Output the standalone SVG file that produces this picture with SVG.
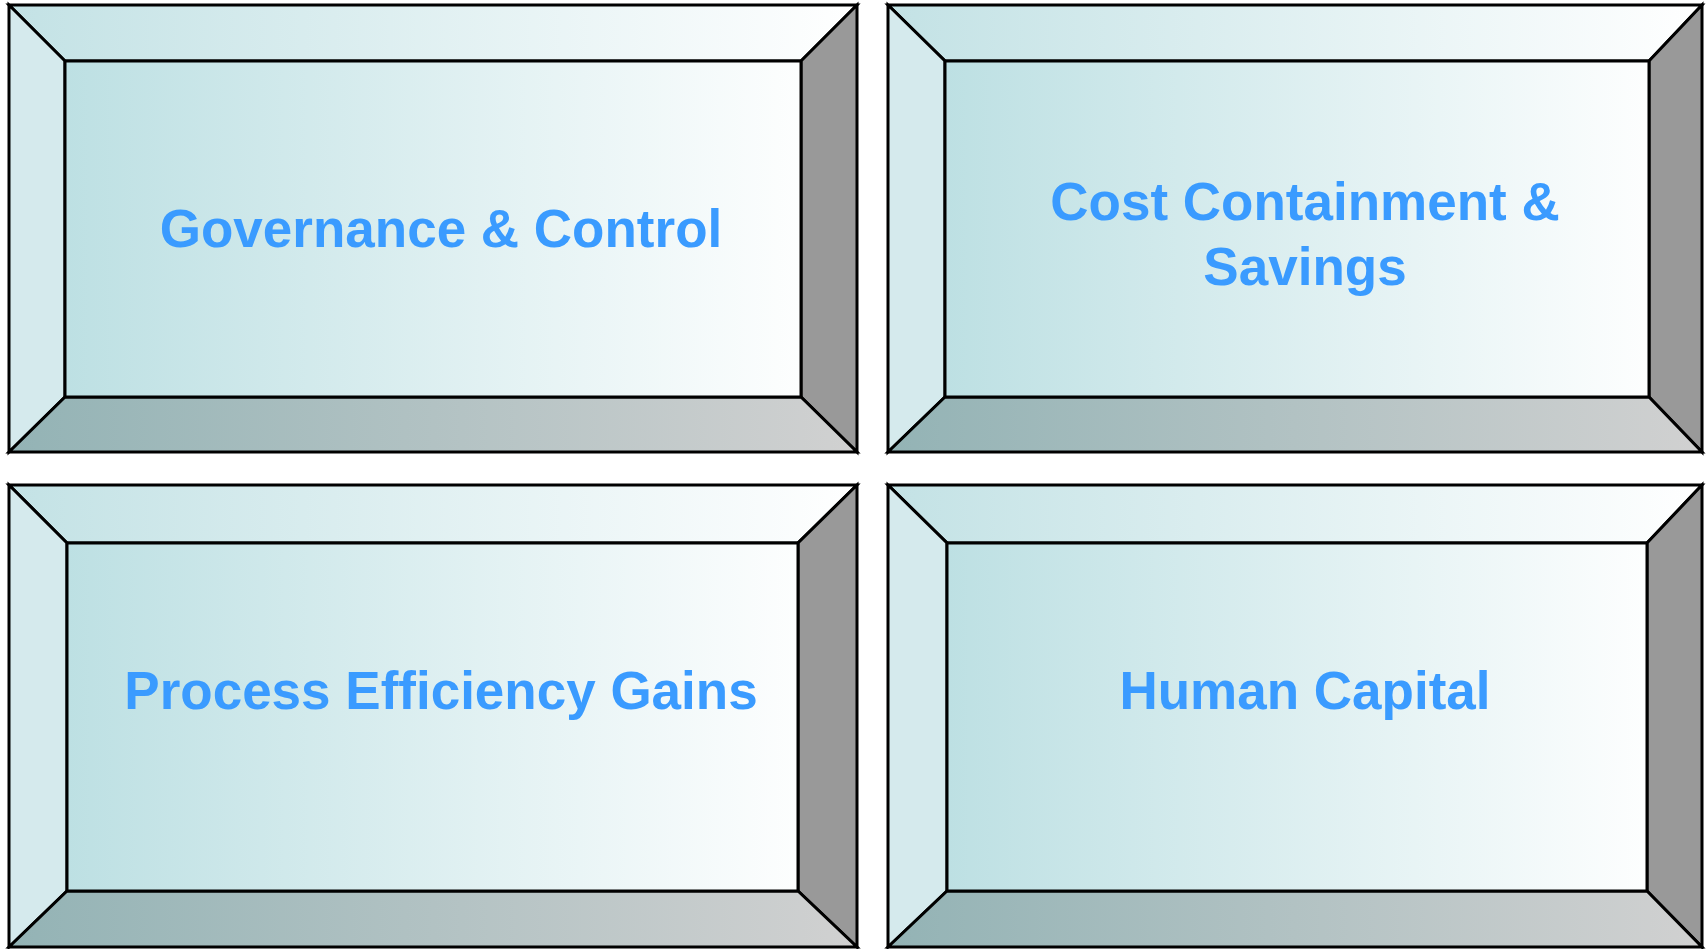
<svg xmlns="http://www.w3.org/2000/svg" width="1707" height="949" viewBox="0 0 1707 949">
  <defs>
    <linearGradient id="gTop" x1="0" y1="0" x2="1" y2="0">
      <stop offset="0" stop-color="#c3e2e5"/>
      <stop offset="1" stop-color="#ffffff"/>
    </linearGradient>
    <linearGradient id="gFace" x1="0" y1="0" x2="1" y2="0">
      <stop offset="0" stop-color="#bde0e3"/>
      <stop offset="1" stop-color="#fdfefe"/>
    </linearGradient>
    <linearGradient id="gBottom" x1="0" y1="0" x2="1" y2="0">
      <stop offset="0" stop-color="#93b3b5"/>
      <stop offset="1" stop-color="#d1d1d1"/>
    </linearGradient>
  </defs>
  <style>
    .bevel { stroke: #000; stroke-width: 3; stroke-linejoin: miter; }
    .top { fill: url(#gTop); }
    .left { fill: #d5eaed; }
    .right { fill: #999999; }
    .bottom { fill: url(#gBottom); }
    .face { fill: url(#gFace); }
    .label { font-family: "Liberation Sans", Arial, Helvetica, sans-serif; font-weight: bold; font-size: 53px; fill: #3a9bff; text-anchor: middle; }
  </style>

  <g id="governance">
    <polygon class="bevel top" points="9,5 857,5 801,61 65,61"/>
    <polygon class="bevel left" points="9,5 65,61 65,397 9,452"/>
    <polygon class="bevel right" points="857,5 857,452 801,397 801,61"/>
    <polygon class="bevel bottom" points="9,452 65,397 801,397 857,452"/>
    <rect class="bevel face" x="65" y="61" width="736" height="336"/>
    <text class="label" x="441" y="247">Governance &amp; Control</text>
  </g>

  <g id="cost">
    <polygon class="bevel top" points="888,5 1702,5 1649,61 945,61"/>
    <polygon class="bevel left" points="888,5 945,61 945,397 888,452"/>
    <polygon class="bevel right" points="1702,5 1702,452 1649,397 1649,61"/>
    <polygon class="bevel bottom" points="888,452 945,397 1649,397 1702,452"/>
    <rect class="bevel face" x="945" y="61" width="704" height="336"/>
    <text class="label" x="1305" y="220">Cost Containment &amp;</text>
    <text class="label" x="1305" y="285">Savings</text>
  </g>

  <g id="process">
    <polygon class="bevel top" points="9,485 857,485 798,543 67,543"/>
    <polygon class="bevel left" points="9,485 67,543 67,891 9,947"/>
    <polygon class="bevel right" points="857,485 857,947 798,891 798,543"/>
    <polygon class="bevel bottom" points="9,947 67,891 798,891 857,947"/>
    <rect class="bevel face" x="67" y="543" width="731" height="348"/>
    <text class="label" x="441" y="709">Process Efficiency Gains</text>
  </g>

  <g id="human">
    <polygon class="bevel top" points="888,485 1702,485 1647,543 947,543"/>
    <polygon class="bevel left" points="888,485 947,543 947,891 888,947"/>
    <polygon class="bevel right" points="1702,485 1702,947 1647,891 1647,543"/>
    <polygon class="bevel bottom" points="888,947 947,891 1647,891 1702,947"/>
    <rect class="bevel face" x="947" y="543" width="700" height="348"/>
    <text class="label" x="1305" y="709">Human Capital</text>
  </g>

  <g id="connectors"/>
</svg>
